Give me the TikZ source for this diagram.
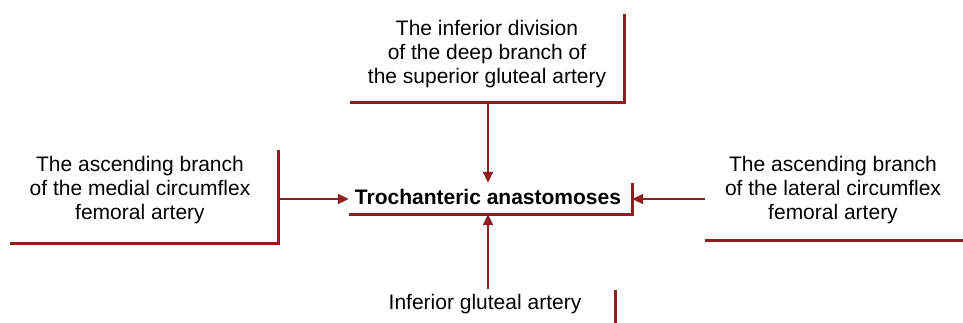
\documentclass[tikz,border=0pt]{standalone}
\usepackage{fontspec}
\setmainfont{Liberation Sans}
\usetikzlibrary{arrows.meta}
\definecolor{artred}{HTML}{8E1F1F}
\begin{document}
\begin{tikzpicture}[x=1pt,y=-1pt,
  txt/.style={align=center,inner sep=0pt,font=\fontsize{21}{24}\selectfont},
  frame/.style={draw=none,inner sep=0pt,minimum width=#1},
  edge/.style={draw=artred,line width=3pt},
  conn/.style={draw=artred,line width=2pt,-{Triangle[length=11pt,width=10pt]}}]
\useasboundingbox (0,0) rectangle (963,323);
% frames (invisible rectangles giving anchors)
\node[frame=274pt,minimum height=88pt] (topbox) at (487,58) {};
\node[frame=268pt,minimum height=93pt] (leftbox) at (144.5,196.5) {};
\node[frame=262pt,minimum height=78pt] (rightbox) at (836,201) {};
\node[frame=283pt,minimum height=31pt] (center) at (490.5,198.5) {};
\node[frame=240pt,minimum height=34pt] (botbox) at (495,307) {};
% texts
\node[txt] (toptxt) at (487,54) {The inferior division\\of the deep branch of\\the superior gluteal artery};
\node[txt] (lefttxt) at (140,190) {The ascending branch\\of the medial circumflex\\femoral artery};
\node[txt] (righttxt) at (833,190) {The ascending branch\\of the lateral circumflex\\femoral artery};
\node[txt,font=\fontsize{21}{24}\selectfont\bfseries] (ctxt) at (488,197) {Trochanteric anastomoses};
\node[txt] (bottxt) at (485,304) {Inferior gluteal artery};
% borders
\draw[edge] (topbox.north east) -- (topbox.south east) -- (topbox.south west);
\draw[edge] (leftbox.north east) -- (leftbox.south east) -- (leftbox.south west);
\draw[edge] (rightbox.south east) -- (rightbox.south west);
\draw[edge] (center.north east) -- (center.south east) -- (center.south west);
\draw[edge] (botbox.north east) -- (botbox.south east);
% connectors
\draw[conn] (topbox.south -| ctxt.north) -- (ctxt.north |- center.north);
\coordinate (lstart) at (leftbox.east |- 0,199);
\coordinate (rstart) at (rightbox.west |- 0,199);
\draw[conn] (lstart) -- (lstart -| center.west);
\draw[conn] (rstart) -- (rstart -| center.east);
\draw[conn] (bottxt.north -| ctxt.south) ++(0,-5) -- (ctxt.south |- center.south);
\end{tikzpicture}
\end{document}
